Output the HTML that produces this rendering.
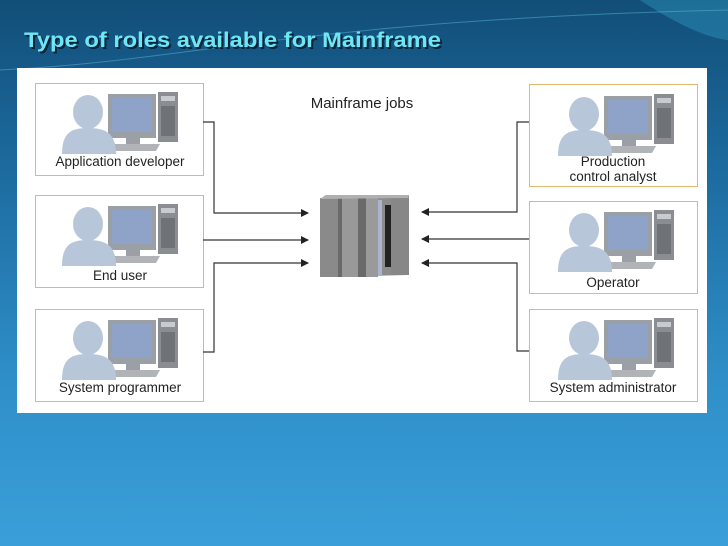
<!DOCTYPE html>
<html><head><style>
body{margin:0;width:728px;height:546px;overflow:hidden;background:linear-gradient(180deg,#124e78 0%,#1c6a9e 30%,#2f8fc9 70%,#3a9fd8 100%);font-family:"Liberation Sans",sans-serif;}
</style></head><body>
<svg width="728" height="546" viewBox="0 0 728 546" xmlns="http://www.w3.org/2000/svg" style="position:absolute;left:0;top:0">
<defs>
<g id="ic">
 <rect x="48" y="6" width="48" height="44" fill="#9aa0a6"/>
 <rect x="52" y="10" width="40" height="34" fill="#8fa3c8"/>
 <rect x="66" y="50" width="14" height="6" fill="#9aa0a6"/>
 <path d="M55 56 L100 56 L96 63 L50 63 Z" fill="#b0b4b8"/>
 <rect x="98" y="4" width="20" height="50" fill="#8a8e92"/>
 <rect x="101" y="8" width="14" height="5" fill="#c8ccd0"/>
 <rect x="101" y="18" width="14" height="30" fill="#6f7377"/>
 <ellipse cx="28" cy="24" rx="15" ry="17" fill="#b8c6da"/>
 <path d="M2 66 C2 44 12 40 28 40 C44 40 56 44 56 66 Z" fill="#b8c6da"/>
</g>
<marker id="ar" markerWidth="8" markerHeight="8" refX="7" refY="4" orient="auto" markerUnits="userSpaceOnUse"><path d="M0 0 L8 4 L0 8 Z" fill="#222"/></marker>
</defs>
<path d="M640 0 C700 40 728 40 728 40 L728 0Z" fill="#2a8fb8" opacity=".5"/>
<path d="M0 70 C200 60 300 20 728 10" stroke="#5ab8d8" stroke-width="1" fill="none" opacity=".5"/>
<text x="26" y="49" font-size="21" font-weight="bold" fill="#0a1a2a" opacity=".85" textLength="417" lengthAdjust="spacingAndGlyphs">Type of roles available for Mainframe</text>
<text x="24" y="47" font-size="21" font-weight="bold" fill="#6ee6f4" textLength="417" lengthAdjust="spacingAndGlyphs">Type of roles available for Mainframe</text>
<rect x="17" y="68" width="690" height="345" fill="#fff"/>
<g fill="#fff" stroke="#e2b870" stroke-width="1">
<rect x="35.5" y="83.5" width="168" height="92"/>
<rect x="35.5" y="195.5" width="168" height="92"/>
<rect x="35.5" y="309.5" width="168" height="92"/>
<rect x="529.5" y="84.5" width="168" height="102"/>
<rect x="529.5" y="201.5" width="168" height="92"/>
<rect x="529.5" y="309.5" width="168" height="92"/>
</g>
<use href="#ic" x="60" y="88"/>
<use href="#ic" x="60" y="200"/>
<use href="#ic" x="60" y="314"/>
<use href="#ic" x="556" y="90"/>
<use href="#ic" x="556" y="206"/>
<use href="#ic" x="556" y="314"/>
<g font-size="13.5" fill="#222" text-anchor="middle">
<text x="120" y="166">Application developer</text>
<text x="120" y="280">End user</text>
<text x="120" y="392">System programmer</text>
<text x="613" y="166">Production</text>
<text x="613" y="181">control analyst</text>
<text x="613" y="287">Operator</text>
<text x="613" y="392">System administrator</text>
<text x="362" y="108" font-size="15">Mainframe jobs</text>
</g>
<g stroke="#333" stroke-width="1.2" fill="none">
<path d="M203 122 H214 V213 H308" marker-end="url(#ar)"/>
<path d="M203 240 H308" marker-end="url(#ar)"/>
<path d="M203 352 H214 V263 H308" marker-end="url(#ar)"/>
<path d="M529 122 H517 V212 H422" marker-end="url(#ar)"/>
<path d="M529 239 H422" marker-end="url(#ar)"/>
<path d="M529 351 H517 V263 H422" marker-end="url(#ar)"/>
</g>
<path d="M320 199 L326 195 L409 195 L408 275 L320 277 Z" fill="#8c8c8c"/>
<rect x="320" y="198" width="18" height="79" fill="#8a8a8a"/>
<rect x="338" y="198" width="4" height="79" fill="#6a6a6a"/>
<rect x="342" y="198" width="16" height="79" fill="#999"/>
<rect x="358" y="198" width="8" height="79" fill="#6a6a6a"/>
<rect x="366" y="198" width="12" height="79" fill="#9a9a9a"/>
<rect x="378" y="200" width="4" height="76" fill="#aab4cc"/>
<rect x="385" y="205" width="6" height="62" fill="#222"/>
<rect x="391" y="198" width="18" height="77" fill="#878787"/>
<path d="M320 199 L326 195 L409 195 L408 198 Z" fill="#b0b0b0"/>
</svg>
</body></html>
